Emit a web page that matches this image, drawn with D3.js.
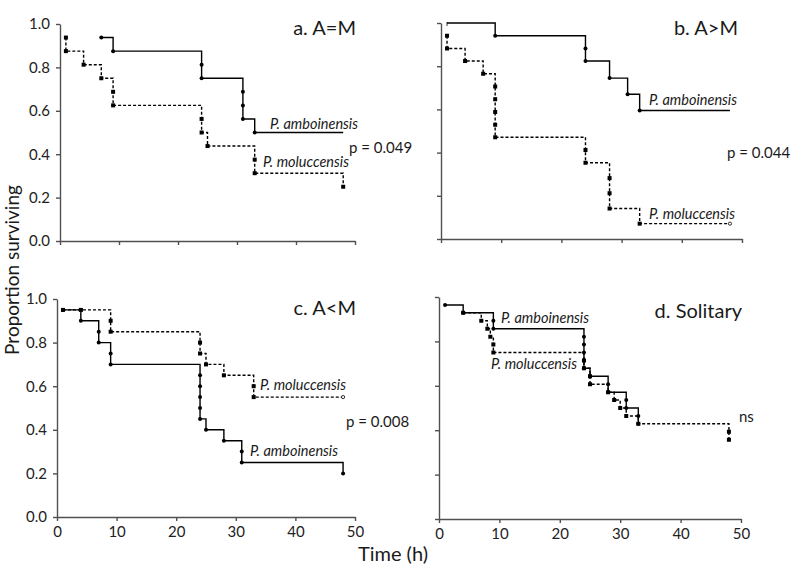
<!DOCTYPE html>
<html>
<head>
<meta charset="utf-8">
<script src="https://cdn.jsdelivr.net/npm/d3@7"></script>
<style>
  body { margin: 0; background: #fff; }
  svg { display: block; font-family: Lato, "Open Sans", sans-serif; }
  .axis path, .axis line { stroke: #505050; stroke-width: 1.4; }
  .axis text { fill: #222; font-size: 15px; font-family: Lato, sans-serif; }
</style>
</head>
<body>
<svg id="chart" width="800" height="567"></svg>
<script>
// Kaplan-Meier survival of P. amboinensis vs P. moluccensis, four pairings.
const timeTicks = [0, 10, 20, 30, 40, 50];
const survTicks = [0, 0.2, 0.4, 0.6, 0.8, 1.0];
const panelTitles = ["a. A=M", "b. A>M", "c. A<M", "d. Solitary"];
const pValues = ["p = 0.049", "p = 0.044", "p = 0.008", "ns"];
const speciesNames = ["P. amboinensis", "P. moluccensis"];

// [time (h), proportion surviving] at each event
const ambA = [[7, 0.9375], [9, 0.875], [24, 0.8125], [24, 0.75], [31, 0.6875], [31, 0.625], [31, 0.5625], [33, 0.5]];
const molA = [[1, 0.9375], [1, 0.875], [4, 0.8125], [7, 0.75], [9, 0.6875], [9, 0.625], [24, 0.5625], [24, 0.5],
  [25, 0.4375], [33, 0.375], [33, 0.3125], [48, 0.25]];

const ambB = [[1, 1.0], [9, 0.941], [24, 0.882], [24, 0.824], [28, 0.745], [31, 0.67], [33, 0.595]];
const molB = [[1, 0.941], [1, 0.882], [4, 0.824], [7, 0.765], [9, 0.706], [9, 0.647], [9, 0.588], [9, 0.529], [9, 0.471],
  [24, 0.412], [24, 0.353], [28, 0.282], [28, 0.212], [28, 0.141], [33, 0.071]];

const ambC = [[1, 0.95], [4, 0.95], [4, 0.90], [7, 0.85], [7, 0.80], [9, 0.75], [9, 0.70], [24, 0.65], [24, 0.60],
  [24, 0.55], [24, 0.50], [24, 0.45], [25, 0.40], [28, 0.35], [31, 0.30], [31, 0.25], [48, 0.20]];
const molC = [[1, 0.95], [4, 0.95], [9, 0.90], [9, 0.85], [24, 0.80], [24, 0.75], [25, 0.70], [28, 0.65], [33, 0.60], [33, 0.55]];

const ambD = [[1, 0.964], [4, 0.929], [9, 0.893], [9, 0.857], [24, 0.821], [24, 0.786], [24, 0.750], [24, 0.714], [24, 0.679],
  [25, 0.643], [28, 0.607], [28, 0.571], [31, 0.536], [31, 0.5], [33, 0.464], [33, 0.429]];
const molD = [[4, 0.929], [7, 0.893], [8, 0.857], [8.5, 0.821], [9, 0.786], [9, 0.75], [24, 0.714], [24, 0.679],
  [25, 0.643], [25, 0.607], [28, 0.571], [29, 0.536], [30, 0.5], [31, 0.464], [33, 0.429], [48, 0.393], [48, 0.357]];

const endTime = 48;

// layout of the four panels and their labels
const panels = [
  { x0: 60, x1: 355, yt: 24, yb: 241, showX: false, showY: true,
    series: [{ pts: ambA, dash: false, end: endTime }, { pts: molA, dash: true, end: endTime }],
    title: [356, 35], pv: [349, 153], labels: [[358, 129], [349, 167]] },
  { x0: 441, x1: 742, yt: 23, yb: 239, showX: false, showY: false,
    series: [{ pts: ambB, dash: false, end: endTime, skipFirst: true }, { pts: molB, dash: true, end: endTime, openEnd: true }],
    title: [738, 35], pv: [727, 158], labels: [[737, 105], [735, 219]] },
  { x0: 57, x1: 355, yt: 299, yb: 517, showX: true, showY: true,
    series: [{ pts: ambC, dash: false, end: endTime }, { pts: molC, dash: true, end: endTime, openEnd: true }],
    title: [356, 315], pv: [346, 427], labels: [[338, 456], [346, 390]] },
  { x0: 439, x1: 741, yt: 297, yb: 519, showX: true, showY: false,
    series: [{ pts: ambD, dash: false, end: 33 }, { pts: molD, dash: true, end: endTime }],
    title: [742, 318], pv: [739, 422], labels: [[589, 323], [577, 369]] }
];

const svg = d3.select("#chart");

panels.forEach((p, i) => {
  const x = d3.scaleLinear().domain([0, 50]).range([p.x0, p.x1]);
  const y = d3.scaleLinear().domain([0, 1]).range([p.yb, p.yt]);
  const g = svg.append("g");

  g.append("g").attr("class", "axis")
    .attr("transform", `translate(0,${p.yb})`)
    .call(d3.axisBottom(x).tickValues(timeTicks).tickSize(4).tickSizeOuter(0)
      .tickFormat(p.showX ? d3.format("d") : () => ""))
    .call(a => a.selectAll("text").attr("dy", "0.85em"));

  g.append("g").attr("class", "axis")
    .attr("transform", `translate(${p.x0},0)`)
    .call(d3.axisLeft(y).tickValues(survTicks).tickSize(4).tickSizeOuter(0)
      .tickFormat(p.showY ? d3.format(".1f") : () => ""))
    .call(a => a.selectAll("text").attr("x", -10));

  const line = d3.line().x(d => x(d[0])).y(d => y(d[1])).curve(d3.curveStepAfter);

  p.series.forEach(s => {
    const last = s.pts[s.pts.length - 1];
    const path = last[0] < s.end ? s.pts.concat([[s.end, last[1]]]) : s.pts;
    g.append("path")
      .attr("d", line(path))
      .attr("fill", "none")
      .attr("stroke", "#000")
      .attr("stroke-width", 1.4)
      .attr("stroke-dasharray", s.dash ? "3,2" : null);

    const marks = s.skipFirst ? s.pts.slice(1) : s.pts;
    if (s.dash) {
      g.selectAll(null).data(marks).join("rect")
        .attr("x", d => x(d[0]) - 2).attr("y", d => y(d[1]) - 2)
        .attr("width", 4).attr("height", 4).attr("fill", "#000");
    } else {
      g.selectAll(null).data(marks).join("circle")
        .attr("cx", d => x(d[0])).attr("cy", d => y(d[1])).attr("r", 2).attr("fill", "#000");
    }
    if (s.openEnd) {
      g.append("circle").attr("cx", x(s.end)).attr("cy", y(last[1])).attr("r", 1.6)
        .attr("fill", "#fff").attr("stroke", "#000").attr("stroke-width", 0.8);
    }
    if (s.skipFirst) {
      const f = s.pts[0];
      g.append("line").attr("x1", x(f[0])).attr("x2", x(f[0]))
        .attr("y1", y(f[1]) - 1).attr("y2", y(f[1]) + 3).attr("stroke", "#000").attr("stroke-width", 0.8);
    }
  });

  g.append("text").attr("x", p.title[0]).attr("y", p.title[1])
    .attr("text-anchor", "end").attr("font-size", 20).attr("fill", "#1a1a1a")
    .text(panelTitles[i]);

  g.append("text").attr("x", p.pv[0]).attr("y", p.pv[1])
    .attr("font-size", 15).attr("fill", "#1a1a1a")
    .text(pValues[i]);

  p.labels.forEach((l, k) => {
    g.append("text").attr("x", l[0]).attr("y", l[1])
      .attr("text-anchor", "end").attr("font-size", 14.5).attr("font-style", "italic").attr("fill", "#1a1a1a")
      .text(speciesNames[k]);
  });
});

svg.append("text")
  .attr("transform", "translate(19,270) rotate(-90)")
  .attr("text-anchor", "middle").attr("font-size", 19).attr("fill", "#1a1a1a")
  .text("Proportion surviving");

svg.append("text")
  .attr("x", 393).attr("y", 561)
  .attr("text-anchor", "middle").attr("font-size", 20).attr("fill", "#1a1a1a")
  .text("Time (h)");
</script>
</body>
</html>
